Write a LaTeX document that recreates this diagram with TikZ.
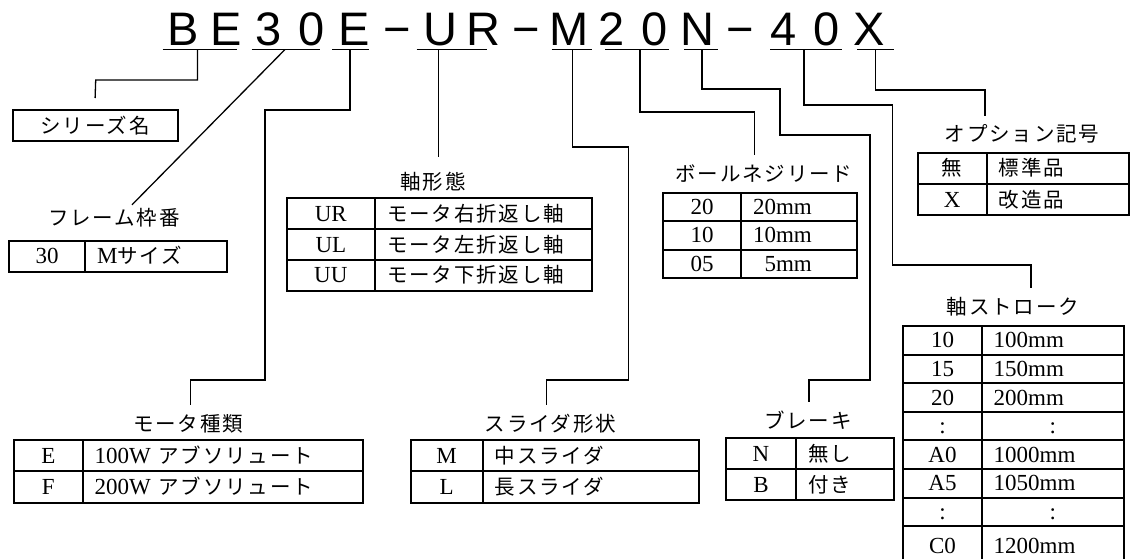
\documentclass[tikz,border=0pt]{standalone}
\usepackage{fontspec}
\setmainfont{Liberation Serif}
\newfontfamily\jpfont[LetterSpace=9]{Noto Sans CJK JP}
\newfontfamily\codefont{Liberation Sans}
\newcommand\jp{\jpfont\fontsize{20.5}{24}\selectfont}
\begin{document}
\begin{tikzpicture}[x=1pt, y=-1pt,
        every node/.style={font=\fontsize{23}{24}\selectfont},
        chr/.style={font=\codefont\fontsize{47}{50}\selectfont, anchor=base, inner sep=0pt},
        uline/.style={line width=1.5pt},
        conn/.style={line width=1.3pt},
        head/.style={anchor=base, inner xsep=0pt, inner ysep=10pt, text height=16pt, text depth=1pt},
        namebox/.style={draw, line width=2.1pt, inner sep=0pt, minimum width=165pt, minimum height=30.7pt},
        keycell/.style 2 args={draw, line width=2.1pt, inner sep=0pt, minimum width=#1, minimum height=#2, text height=16pt, text depth=1pt},
        valcell/.style n args={3}{draw, line width=2.1pt, inner xsep=12pt, inner ysep=0pt, minimum width=#1, minimum height=#2, text width=#3, align=left, text height=16pt, text depth=1pt}]
        \path[use as bounding box, fill=white] (0,0) rectangle (1132,559);

        % model code
        \foreach \c [count=\i from 0] in {B,E,3,0,E,−,U,R,−,M,2,0,N,−,4,0,X}
            \node[chr] (t\i) at (183+42.9*\i,45.5) {\c};
        \foreach \a/\b in {162.7/237.3, 251.7/320, 332/369, 416.7/487.3, 551.7/591.7, 605/669, 684/718, 770/842, 857/894}
            \draw[uline] (\a,49.5) -- (\b,49.5);
        \coordinate (uBE) at (197.5,49.5);
        \coordinate (u30) at (285,49.5);
        \coordinate (uE) at (350,49.5);
        \coordinate (uUR) at (438.5,49.5);
        \coordinate (uM) at (572.7,49.5);
        \coordinate (u20) at (640,49.5);
        \coordinate (uN) at (702,49.5);
        \coordinate (u40) at (804,49.5);
        \coordinate (uX) at (875.7,49.5);

        % series name
        \node[namebox] (series) at (95.1,125.4) {\jp シリーズ名};

        % frame size
        \node[head] (frame) at (114,225) {\jp フレーム枠番};
        \node[keycell={76pt}{31pt}] (frameK1) at (47,256.2) {30};
        \node[valcell={142.4pt}{31pt}{118.4pt}] (frameV1) at (156.2,256.2) {M{\jp サイズ}};

        % motor type
        \node[head] (motor) at (188,431) {\jp モータ種類};
        \foreach \ky/\vl [count=\i] in {E/100W {\jp アブソリュート}, F/200W {\jp アブソリュート}} {
            \node[keycell={68.7pt}{31.35pt}] (motorK\i) at (48.35,440+31.35*\i-15.7) {\ky};
            \node[valcell={280.6pt}{31.35pt}{256.6pt}] (motorV\i) at (223,440+31.35*\i-15.7) {\vl};
        }

        % axis form
        \node[head, inner ysep=16pt] (axis) at (433,189) {\jp 軸形態};
        \foreach \ky/\vl [count=\i] in {UR/モータ右折返し軸, UL/モータ左折返し軸, UU/モータ下折返し軸} {
            \node[keycell={88.3pt}{30.8pt}] (axisK\i) at (330.85,198.3+30.8*\i-15.4) {\ky};
            \node[valcell={216.7pt}{30.8pt}{192.7pt}] (axisV\i) at (483.35,198.3+30.8*\i-15.4) {\jp \vl};
        }

        % slider form
        \node[head] (slider) at (550.5,431) {\jp スライダ形状};
        \foreach \ky/\vl [count=\i] in {M/中スライダ, L/長スライダ} {
            \node[keycell={72pt}{31.35pt}] (sliderK\i) at (446.7,440+31.35*\i-15.7) {\ky};
            \node[valcell={216.3pt}{31.35pt}{192.3pt}] (sliderV\i) at (590.85,440+31.35*\i-15.7) {\jp \vl};
        }

        % ball screw lead
        \node[head] (lead) at (764,181) {\jp ボールネジリード};
        \foreach \ky/\vl [count=\i] in {20/20mm, 10/10mm, 05/\phantom{2}5mm} {
            \node[keycell={77.7pt}{28.5pt}] (leadK\i) at (702.15,192.7+28.5*\i-14.25) {\ky};
            \node[valcell={116pt}{28.5pt}{92pt}] (leadV\i) at (799,192.7+28.5*\i-14.25) {\vl};
        }

        % brake
        \node[head] (brake) at (808,428) {\jp ブレーキ};
        \foreach \ky/\vl [count=\i] in {N/無し, B/付き} {
            \node[keycell={70pt}{30.8pt}] (brakeK\i) at (761,438.3+30.8*\i-15.4) {\ky};
            \node[valcell={98pt}{30.8pt}{74pt}] (brakeV\i) at (845,438.3+30.8*\i-15.4) {\jp \vl};
        }

        % stroke
        \node[head] (stroke) at (1013,314) {\jp 軸ストローク};
        \foreach \ky/\vl [count=\i] in {10/100mm, 15/150mm, 20/200mm, :/\hfill:\hfill\null, A0/1000mm, A5/1050mm, :/\hfill:\hfill\null} {
            \node[keycell={78.4pt}{28.6pt}] (strokeK\i) at (942.5,326+28.6*\i-14.3) {\ky};
            \node[valcell={142.3pt}{28.6pt}{118.3pt}] (strokeV\i) at (1052.85,326+28.6*\i-14.3) {\vl};
        }
        \node[keycell={78.4pt}{40pt}] (strokeK8) at (942.5,546.2) {C0};
        \node[valcell={142.3pt}{40pt}{118.3pt}] (strokeV8) at (1052.85,546.2) {1200mm};

        % option
        \node[head] (option) at (1022,142) {\jp オプション記号};
        \foreach \ky/\vl [count=\i] in {{\jp 無}/標準品, X/改造品} {
            \node[keycell={69pt}{31.2pt}] (optionK\i) at (952.2,152.7+31.2*\i-15.6) {\ky};
            \node[valcell={142.6pt}{31.2pt}{118.6pt}] (optionV\i) at (1058,152.7+31.2*\i-15.6) {\jp \vl};
        }

        % leaders
        \coordinate (kBE) at (95.7,80);
        \coordinate (kE1) at (265,110);
        \coordinate (kE2) at (190.5,380);
        \coordinate (kM1) at (628.5,147);
        \coordinate (kM2) at (546.7,380);
        \coordinate (k20) at (754.3,112);
        \coordinate (kN1) at (780,89);
        \coordinate (kN2) at (870,135);
        \coordinate (kN3) at (809,380);
        \coordinate (k401) at (892.5,105);
        \coordinate (k402) at (1031,265);
        \coordinate (kX) at (985,90);
        \draw[conn] (uBE) |- (kBE) -- ([yshift=11pt]series.north);
        \draw[conn] (u30) -- ([xshift=18pt,yshift=-6pt]frame.north);
        \draw[conn] (uE) |- (kE1) |- (kE2) -- (kE2 |- motor.north);
        \draw[conn] (uUR) -- (uUR |- axis.north);
        \draw[conn] (uM) |- (kM1) |- (kM2) -- (kM2 |- slider.north);
        \draw[conn] (u20) |- (k20) -- (k20 |- lead.north);
        \draw[conn] (uN) |- (kN1) |- (kN2) |- (kN3) -- (kN3 |- brake.north);
        \draw[conn] (u40) |- (k401) |- (k402) -- (k402 |- stroke.north);
        \draw[conn] (uX) |- (kX) -- (kX |- option.north);
    \end{tikzpicture}
\end{document}
